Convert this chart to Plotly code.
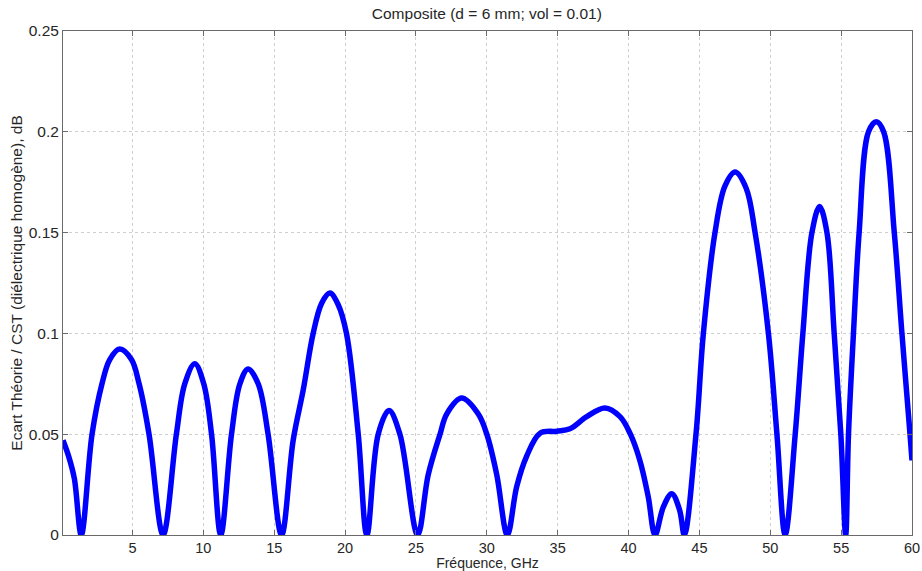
import plotly.graph_objects as go

freq = [0.1, 0.5, 0.9, 1.39, 2.15, 2.85, 3.4, 4.1, 4.93, 5.47, 6.17, 7.16,
        8.1, 8.69, 9.4, 10.03, 10.58, 11.23,
        11.99, 12.58, 13.16, 13.87, 14.57, 15.52,
        16.34, 17.05, 17.75, 18.35, 18.93, 19.5, 20.1, 20.93, 21.54,
        22.34, 23.1, 23.87, 25.12,
        25.87, 26.7, 27.17, 28.23, 29.4, 30.0, 30.7, 31.45,
        32.11, 32.8, 33.76, 34.93, 35.87, 37.05, 38.34, 39.4, 40.1, 40.8, 41.39, 41.87,
        42.46, 43.05, 43.6, 43.94,
        44.76, 45.28, 46.1, 46.8, 47.52, 48.3, 48.93, 49.87, 50.47, 51.05,
        51.76, 52.3, 52.94, 53.48, 54.0, 54.51, 54.98, 55.32,
        55.52, 55.87, 56.27, 56.93, 57.48, 58.0, 58.75, 59.29, 59.86, 60.0]

ecart = [0.047, 0.039, 0.028, 0.0, 0.05, 0.075, 0.087, 0.0922, 0.087, 0.075, 0.05, 0.0,
         0.05, 0.075, 0.085, 0.075, 0.05, 0.0,
         0.05, 0.075, 0.0823, 0.075, 0.05, 0.0,
         0.047, 0.072, 0.1, 0.115, 0.12, 0.1145, 0.1, 0.05, 0.0,
         0.05, 0.0617, 0.05, 0.0,
         0.03, 0.05, 0.06, 0.0679, 0.06, 0.05, 0.03, 0.0,
         0.024, 0.0389, 0.0505, 0.0515, 0.0527, 0.0587, 0.063, 0.0587, 0.0505, 0.037, 0.019, 0.0,
         0.014, 0.0205, 0.0125, 0.0,
         0.05, 0.1, 0.15, 0.173, 0.18, 0.172, 0.15, 0.1, 0.05, 0.0,
         0.05, 0.1, 0.15, 0.163, 0.15, 0.1, 0.05, 0.0,
         0.05, 0.1, 0.15, 0.2, 0.205, 0.2, 0.15, 0.1, 0.05, 0.037]

x_ticks = [5, 10, 15, 20, 25, 30, 35, 40, 45, 50, 55, 60]
y_ticks = [0, 0.05, 0.1, 0.15, 0.2, 0.25]
y_labels = ["0", "0.05", "0.1", "0.15", "0.2", "0.25"]

TXT = "#262626"
FS = 15.5

fig = go.Figure()
fig.add_trace(go.Scatter(
    x=freq, y=ecart, mode="lines",
    line=dict(color="#0000FF", width=5.5, shape="spline", smoothing=1.0),
    showlegend=False, hoverinfo="skip",
))

axis_common = dict(
    showline=True, linecolor="#6a6a6a", linewidth=1, mirror="ticks",
    ticks="inside", ticklen=5, tickcolor="#6a6a6a",
    showgrid=True, gridcolor="#cfcfcf", griddash="dot", gridwidth=1,
    zeroline=False, automargin=False,
)

fig.update_xaxes(range=[0.1, 60], tickvals=x_ticks, tickfont=dict(size=14.5, color=TXT),
                 title=dict(text="Fréquence, GHz", font=dict(size=14, color=TXT), standoff=3),
                 **axis_common)
fig.update_yaxes(range=[0, 0.25], tickvals=y_ticks, ticktext=y_labels,
                 tickfont=dict(size=FS, color=TXT),
                 title=dict(text="Ecart Théorie / CST (diélectrique homogène), dB",
                            font=dict(size=FS, color=TXT), standoff=2),
                 **axis_common)

fig.update_layout(
    width=922, height=571,
    margin=dict(l=63, r=10, t=31, b=36),
    paper_bgcolor="white", plot_bgcolor="white",
    font=dict(family="Liberation Sans, Arial, sans-serif", size=FS, color=TXT),
    title=dict(text="Composite (d = 6 mm; vol = 0.01)", x=0.528, xanchor="center",
               xref="container", y=0.977, yref="container", yanchor="middle",
               font=dict(size=FS, color=TXT)),
)

fig.write_html("out.html", config={"displayModeBar": False},
               post_script="document.body.style.margin='0';document.body.style.padding='0';")
